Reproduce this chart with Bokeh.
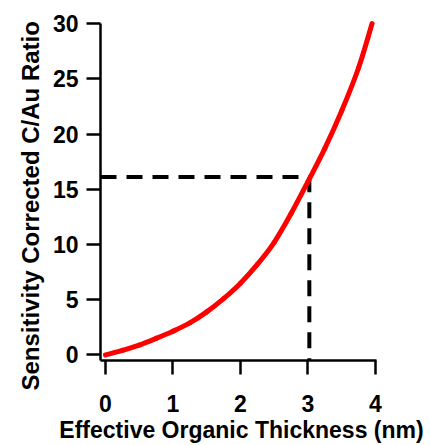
from bokeh.plotting import figure
from bokeh.models import Range1d, FixedTicker, Title
from bokeh.embed import file_html
from bokeh.resources import INLINE

# Data
thickness_nm = [0, 0.25, 0.5, 0.75, 1.0, 1.25, 1.5, 1.75, 2.0, 2.25, 2.5, 2.75, 3.0, 3.25, 3.5, 3.75, 3.95]
ratio = [0, 0.42, 0.9, 1.5, 2.15, 2.9, 3.9, 5.1, 6.5, 8.2, 10.2, 12.8, 15.7, 18.7, 22.1, 26.0, 30.0]
marker_thickness = 3.02
marker_ratio = 16.1
x_ticks = [0, 1, 2, 3, 4]
y_ticks = [0, 5, 10, 15, 20, 25, 30]

x_start, x_end = -0.074, 4.104
y_start, y_end = -0.5, 31.0

FONT = "Liberation Sans"

p = figure(width=430, height=445,
           x_range=Range1d(x_start, x_end), y_range=Range1d(y_start, y_end),
           output_backend="svg", toolbar_location=None,
           min_border_left=100, min_border_right=48,
           min_border_top=12, min_border_bottom=85)
p.outline_line_color = None
p.grid.visible = False
p.background_fill_color = "white"
p.border_fill_color = "white"

for ax in (p.xaxis[0], p.yaxis[0]):
    ax.axis_line_width = 2.5
    ax.axis_line_color = "black"
    ax.major_tick_line_width = 2.5
    ax.major_tick_line_color = "black"
    ax.major_tick_in = 0
    ax.major_tick_out = 14
    ax.minor_tick_line_color = None
    ax.major_label_text_font = FONT
    ax.major_label_text_font_style = "bold"
    ax.major_label_text_font_size = "23px"
    ax.major_label_text_color = "black"
    ax.axis_label_text_font = FONT
    ax.axis_label_text_font_style = "bold"
    ax.axis_label_text_color = "black"

xa = p.xaxis[0]
xa.ticker = FixedTicker(ticks=x_ticks)
xa.bounds = (x_start, 4.02)
xa.major_label_standoff = 20
xa.axis_label = "Effective Organic Thickness (nm)"
xa.axis_label_text_font_size = "23px"
xa.axis_label_standoff = 2

ya = p.yaxis[0]
ya.ticker = FixedTicker(ticks=y_ticks)
ya.bounds = (y_start, 30)
ya.major_label_standoff = 8

ytitle = Title(text="Sensitivity Corrected C/Au Ratio", align="left", offset=-30,
               standoff=12, text_font=FONT, text_font_style="bold",
               text_font_size="24px", text_color="black")
p.add_layout(ytitle, "left")

# dashed guide lines
p.line([x_start, marker_thickness, marker_thickness], [marker_ratio, marker_ratio, y_start],
       line_color="black", line_width=4, line_dash="16 10")

# smooth curve through the read points (Catmull-Rom drawn as cubic Bezier segments)
n = len(thickness_nm)
x0, y0, x1, y1, cx0, cy0, cx1, cy1 = [], [], [], [], [], [], [], []
for i in range(n - 1):
    a = max(i - 1, 0)
    b = min(i + 2, n - 1)
    x0.append(thickness_nm[i]); y0.append(ratio[i])
    x1.append(thickness_nm[i + 1]); y1.append(ratio[i + 1])
    cx0.append(thickness_nm[i] + (thickness_nm[i + 1] - thickness_nm[a]) / 6)
    cy0.append(ratio[i] + (ratio[i + 1] - ratio[a]) / 6)
    cx1.append(thickness_nm[i + 1] - (thickness_nm[b] - thickness_nm[i]) / 6)
    cy1.append(ratio[i + 1] - (ratio[b] - ratio[i]) / 6)
p.bezier(x0=x0, y0=y0, x1=x1, y1=y1, cx0=cx0, cy0=cy0, cx1=cx1, cy1=cy1,
         line_color="#ff0000", line_width=5, line_cap="round")

open("out.html", "w").write(file_html(p, INLINE))
